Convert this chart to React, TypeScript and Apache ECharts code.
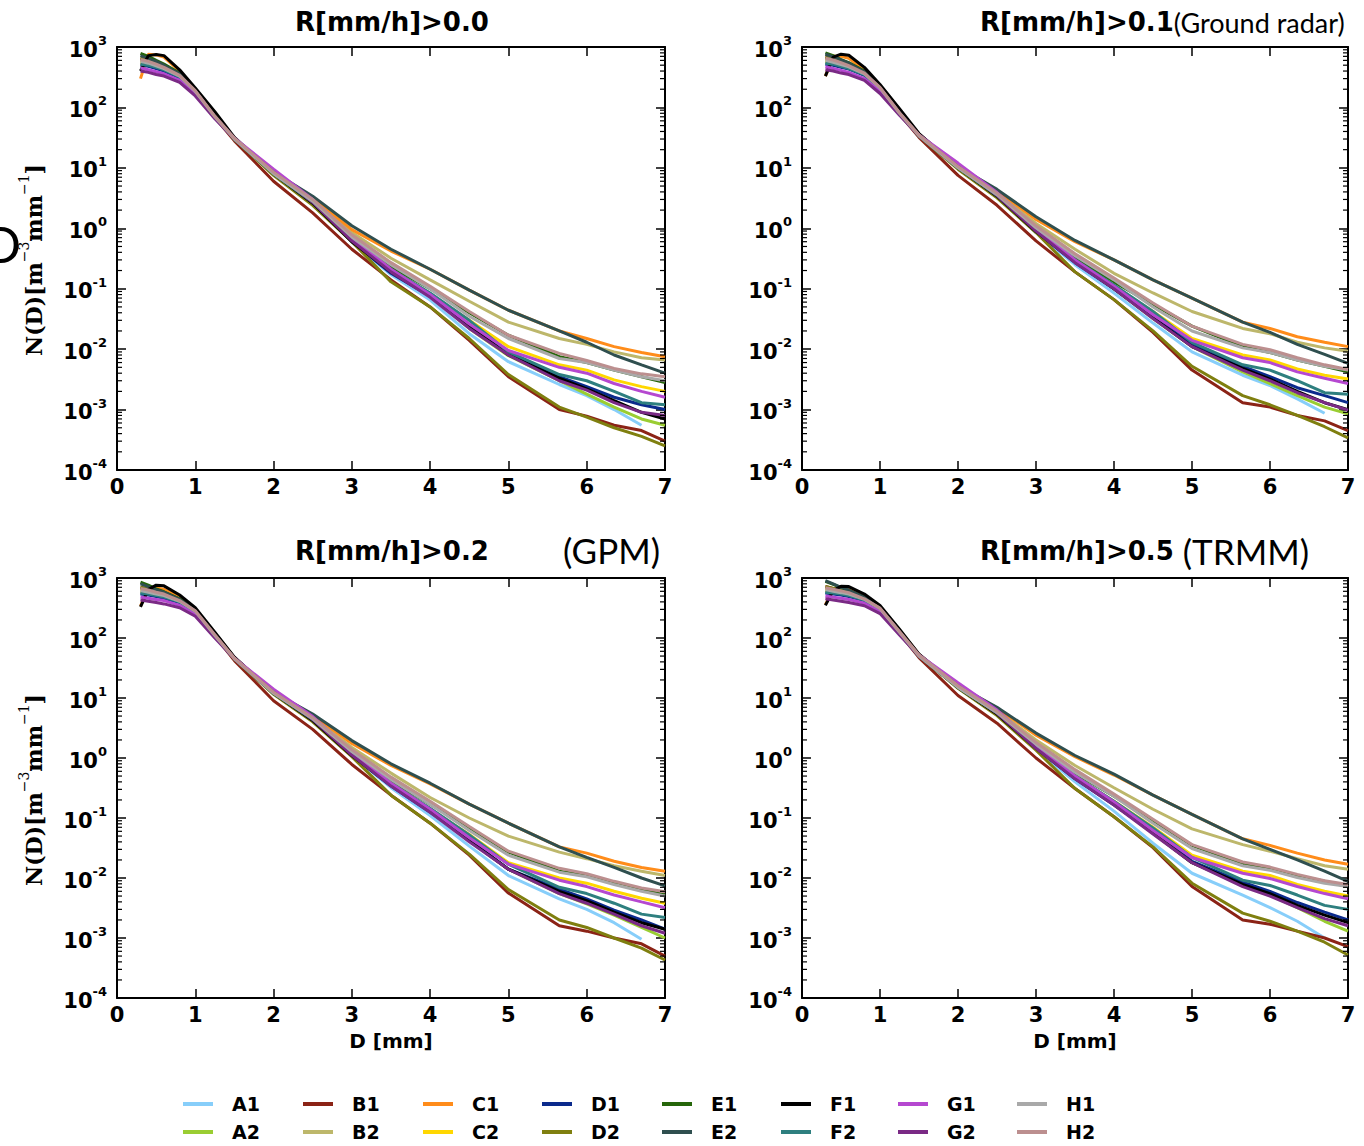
import React, { useEffect, useRef } from 'react';
import * as echarts from 'echarts';

// Drop diameter grid D [mm]
const DIAMETERS = [0.3, 0.4, 0.5, 0.6, 0.8, 1.0, 1.25, 1.5, 2.0, 2.5, 3.0, 3.5, 4.0, 4.5, 5.0, 5.65, 6.0, 6.35, 6.7, 7.0];

const SERIES_NAMES = ['A1', 'A2', 'B1', 'B2', 'C1', 'C2', 'D1', 'D2', 'E1', 'E2', 'F1', 'F2', 'G1', 'G2', 'H1', 'H2'];
const SERIES_COLORS = ['#87cefa', '#9acd32', '#8b2316', '#bdb76b', '#ff8c1a', '#ffd700', '#0b2a8c', '#7f7f0f',
  '#26660a', '#2f4f4f', '#000000', '#2e7f7f', '#b548d0', '#7a2a85', '#a9a9a9', '#bc8f8f'];

const PANEL_TITLES = ['R[mm/h]>0.0', 'R[mm/h]>0.1', 'R[mm/h]>0.2', 'R[mm/h]>0.5'];
const PANEL_NOTES = ['', '(Ground radar)', '(GPM)', '(TRMM)'];
const X_LABEL = 'D [mm]';

// N(D) [m^-3 mm^-1], one row per series (order of SERIES_NAMES), columns follow DIAMETERS
const ND_R00 = [
  [550, 520, 480, 440, 330, 190, 70, 30, 8, 2.6, 0.6, 0.17, 0.065, 0.018, 0.0062, 0.0026, 0.0017, 0.001, 0.00055, null],
  [600, 560, 500, 450, 340, 190, 70, 30, 8, 2.6, 0.62, 0.19, 0.075, 0.022, 0.0078, 0.003, 0.0018, 0.0011, 0.0007, 0.00055],
  [650, 600, 540, 480, 350, 190, 68, 28, 6, 1.8, 0.45, 0.14, 0.05, 0.014, 0.0035, 0.001, 0.00078, 0.00055, 0.00045, 0.0003],
  [600, 560, 500, 450, 340, 185, 70, 30, 8, 3.0, 0.85, 0.32, 0.14, 0.062, 0.028, 0.015, 0.012, 0.009, 0.0072, 0.0066],
  [300, 760, 740, 680, 400, 200, 75, 31, 8.5, 3.2, 0.95, 0.42, 0.21, 0.095, 0.044, 0.02, 0.015, 0.011, 0.0088, 0.0075],
  [550, 520, 470, 430, 330, 185, 70, 30, 8, 2.7, 0.65, 0.2, 0.08, 0.03, 0.011, 0.0055, 0.0045, 0.0031, 0.0024, 0.002],
  [500, 480, 440, 400, 310, 185, 70, 30, 8, 2.6, 0.6, 0.18, 0.075, 0.025, 0.0085, 0.0035, 0.0024, 0.0016, 0.0012, 0.001],
  [650, 600, 540, 480, 350, 190, 70, 30, 7.5, 2.4, 0.6, 0.13, 0.05, 0.015, 0.0038, 0.0011, 0.00075, 0.0005, 0.00036, 0.00025],
  [780, 700, 600, 520, 370, 195, 72, 30, 8, 2.8, 0.7, 0.23, 0.1, 0.04, 0.017, 0.0075, 0.006, 0.0045, 0.0035, 0.0028],
  [720, 650, 580, 500, 360, 195, 72, 31, 8.5, 3.4, 1.1, 0.45, 0.21, 0.095, 0.044, 0.02, 0.013, 0.008, 0.0055, 0.004],
  [400, 720, 750, 720, 420, 210, 85, 32, 8, 2.6, 0.6, 0.19, 0.075, 0.024, 0.008, 0.0033, 0.0022, 0.0014, 0.0009, 0.0007],
  [520, 500, 460, 420, 320, 185, 70, 30, 8, 2.7, 0.65, 0.21, 0.085, 0.03, 0.009, 0.0038, 0.003, 0.002, 0.0013, 0.0012],
  [450, 420, 390, 360, 280, 165, 68, 31, 9.5, 3.0, 0.7, 0.21, 0.08, 0.026, 0.0095, 0.005, 0.004, 0.0027, 0.002, 0.0016],
  [400, 380, 350, 330, 260, 155, 65, 30, 8.5, 2.7, 0.62, 0.19, 0.072, 0.022, 0.008, 0.003, 0.0021, 0.0013, 0.0009, 0.0008],
  [580, 540, 490, 440, 330, 185, 70, 30, 8, 2.8, 0.72, 0.25, 0.1, 0.035, 0.015, 0.007, 0.006, 0.0045, 0.0035, 0.003],
  [620, 580, 520, 460, 340, 190, 72, 31, 8.5, 3.0, 0.78, 0.27, 0.11, 0.042, 0.017, 0.0085, 0.0065, 0.0048, 0.0039, 0.0035],
];

const ND_R01 = [
  [560, 540, 500, 460, 360, 210, 80, 34, 10, 3.4, 0.85, 0.25, 0.085, 0.027, 0.009, 0.0037, 0.0025, 0.0015, 0.00087, null],
  [640, 600, 540, 490, 370, 215, 82, 35, 10, 3.4, 0.9, 0.28, 0.1, 0.032, 0.011, 0.0042, 0.0027, 0.0017, 0.0011, 0.00085],
  [680, 630, 560, 500, 370, 210, 78, 32, 7.5, 2.4, 0.62, 0.19, 0.066, 0.019, 0.0045, 0.0013, 0.0011, 0.0008, 0.00065, 0.00045],
  [640, 600, 540, 490, 370, 210, 80, 35, 10, 3.9, 1.2, 0.45, 0.18, 0.085, 0.042, 0.022, 0.018, 0.013, 0.0105, 0.0092],
  [330, 700, 700, 650, 420, 230, 88, 36, 10.5, 4.2, 1.4, 0.6, 0.3, 0.14, 0.07, 0.028, 0.022, 0.016, 0.013, 0.011],
  [580, 550, 500, 460, 360, 210, 80, 34, 10, 3.5, 0.92, 0.28, 0.11, 0.042, 0.015, 0.008, 0.0066, 0.0047, 0.0037, 0.0032],
  [520, 500, 460, 430, 340, 205, 80, 34, 10, 3.4, 0.88, 0.27, 0.1, 0.035, 0.012, 0.0052, 0.0035, 0.0023, 0.0017, 0.0013],
  [680, 630, 560, 500, 370, 210, 80, 34, 9.5, 3.2, 0.85, 0.19, 0.066, 0.02, 0.0052, 0.0017, 0.0012, 0.0008, 0.00052, 0.00034],
  [800, 720, 620, 550, 400, 220, 84, 35, 10, 3.7, 1.0, 0.33, 0.13, 0.055, 0.024, 0.011, 0.0088, 0.0066, 0.0052, 0.0042],
  [760, 690, 610, 540, 390, 220, 84, 36, 10.5, 4.4, 1.55, 0.63, 0.3, 0.14, 0.07, 0.028, 0.019, 0.012, 0.0082, 0.0058],
  [330, 680, 760, 730, 460, 240, 95, 37, 10, 3.4, 0.88, 0.28, 0.1, 0.033, 0.011, 0.0048, 0.0032, 0.002, 0.0013, 0.001],
  [540, 520, 480, 440, 350, 205, 80, 34, 10, 3.5, 0.95, 0.3, 0.115, 0.042, 0.013, 0.0055, 0.0045, 0.003, 0.0019, 0.0018],
  [470, 440, 410, 380, 300, 185, 78, 35, 12, 3.9, 1.0, 0.3, 0.11, 0.037, 0.014, 0.0072, 0.006, 0.0042, 0.0033, 0.0027],
  [420, 400, 370, 350, 280, 170, 74, 34, 10.5, 3.5, 0.9, 0.27, 0.1, 0.032, 0.011, 0.0045, 0.003, 0.0019, 0.0013, 0.00098],
  [600, 560, 510, 470, 360, 210, 80, 34, 10, 3.6, 1.02, 0.35, 0.14, 0.05, 0.02, 0.0105, 0.0088, 0.0066, 0.0052, 0.0045],
  [650, 610, 550, 490, 370, 215, 82, 35, 10.5, 3.8, 1.1, 0.38, 0.15, 0.058, 0.024, 0.012, 0.0098, 0.0072, 0.0055, 0.0046],
];

const ND_R02 = [
  [560, 550, 520, 490, 400, 280, 110, 45, 12, 4.2, 1.1, 0.32, 0.11, 0.034, 0.011, 0.0045, 0.003, 0.0018, 0.00095, null],
  [660, 620, 570, 530, 420, 290, 115, 46, 12, 4.3, 1.15, 0.36, 0.13, 0.042, 0.014, 0.0055, 0.0037, 0.0024, 0.0015, 0.001],
  [700, 650, 590, 540, 420, 280, 108, 42, 9, 3.0, 0.78, 0.24, 0.082, 0.024, 0.0056, 0.0016, 0.0013, 0.001, 0.0008, 0.0005],
  [660, 620, 570, 530, 420, 285, 112, 46, 12, 4.8, 1.5, 0.56, 0.22, 0.1, 0.05, 0.027, 0.021, 0.016, 0.013, 0.011],
  [340, 660, 680, 650, 480, 300, 120, 47, 12.5, 5.2, 1.75, 0.75, 0.37, 0.17, 0.082, 0.033, 0.026, 0.019, 0.015, 0.013],
  [600, 570, 530, 500, 410, 280, 110, 45, 12, 4.4, 1.15, 0.36, 0.14, 0.053, 0.018, 0.01, 0.0082, 0.006, 0.0046, 0.0038],
  [540, 520, 490, 460, 390, 275, 110, 45, 12, 4.2, 1.1, 0.34, 0.125, 0.044, 0.014, 0.0065, 0.0045, 0.0029, 0.002, 0.0014],
  [700, 650, 590, 540, 420, 285, 112, 45, 11.5, 4.0, 1.05, 0.24, 0.082, 0.025, 0.0064, 0.002, 0.0015, 0.001, 0.00068, 0.00043],
  [850, 760, 660, 590, 450, 295, 115, 46, 12, 4.6, 1.25, 0.42, 0.17, 0.068, 0.027, 0.013, 0.011, 0.0082, 0.0065, 0.0052],
  [800, 720, 640, 580, 440, 295, 116, 47, 12.5, 5.4, 1.95, 0.8, 0.38, 0.17, 0.082, 0.033, 0.022, 0.015, 0.01, 0.0074],
  [330, 640, 760, 740, 520, 320, 125, 48, 12, 4.2, 1.1, 0.35, 0.13, 0.042, 0.014, 0.006, 0.0042, 0.0027, 0.0018, 0.0014],
  [560, 540, 510, 480, 400, 275, 110, 45, 12, 4.4, 1.2, 0.38, 0.145, 0.052, 0.017, 0.007, 0.0055, 0.0038, 0.0025, 0.0022],
  [480, 460, 440, 420, 350, 245, 105, 46, 14, 4.9, 1.25, 0.38, 0.14, 0.047, 0.017, 0.0092, 0.0072, 0.0052, 0.004, 0.0032],
  [430, 410, 390, 370, 320, 230, 100, 45, 12.5, 4.4, 1.12, 0.34, 0.125, 0.04, 0.014, 0.0055, 0.0038, 0.0025, 0.0016, 0.0012],
  [620, 580, 540, 510, 410, 280, 110, 45, 12, 4.5, 1.28, 0.44, 0.17, 0.062, 0.024, 0.0125, 0.0105, 0.0078, 0.006, 0.005],
  [670, 630, 580, 540, 420, 285, 114, 46, 12.5, 4.7, 1.38, 0.48, 0.19, 0.072, 0.028, 0.0145, 0.0118, 0.0088, 0.0068, 0.0059],
];

const ND_R05 = [
  [570, 560, 540, 510, 430, 310, 125, 50, 15, 5.4, 1.4, 0.4, 0.13, 0.038, 0.012, 0.0052, 0.0032, 0.0019, 0.001, null],
  [680, 640, 600, 560, 450, 320, 130, 52, 15, 5.5, 1.5, 0.47, 0.17, 0.056, 0.018, 0.0075, 0.0052, 0.0032, 0.0019, 0.0013],
  [720, 670, 620, 570, 450, 310, 120, 47, 11, 3.8, 1.0, 0.31, 0.105, 0.032, 0.0072, 0.002, 0.0017, 0.0013, 0.001, 0.00072],
  [680, 640, 600, 560, 450, 315, 128, 52, 15, 6.2, 2.0, 0.75, 0.32, 0.14, 0.066, 0.036, 0.028, 0.021, 0.016, 0.014],
  [360, 640, 680, 660, 510, 330, 135, 53, 16, 6.8, 2.4, 1.05, 0.52, 0.24, 0.115, 0.045, 0.035, 0.026, 0.02, 0.017],
  [620, 590, 560, 530, 440, 310, 125, 50, 15, 5.6, 1.5, 0.48, 0.19, 0.07, 0.024, 0.013, 0.011, 0.0078, 0.006, 0.005],
  [560, 540, 520, 490, 420, 305, 125, 50, 15, 5.4, 1.45, 0.45, 0.165, 0.058, 0.019, 0.0085, 0.006, 0.0039, 0.0027, 0.002],
  [720, 670, 620, 570, 450, 315, 128, 51, 14.5, 5.1, 1.35, 0.31, 0.105, 0.033, 0.0082, 0.0026, 0.0019, 0.0013, 0.00085, 0.00052],
  [880, 780, 690, 620, 480, 325, 130, 52, 15, 5.9, 1.65, 0.56, 0.23, 0.09, 0.035, 0.017, 0.014, 0.011, 0.0088, 0.0072],
  [900, 800, 700, 630, 480, 330, 132, 53, 16, 7.0, 2.6, 1.1, 0.54, 0.24, 0.115, 0.045, 0.03, 0.02, 0.013, 0.0088],
  [350, 620, 730, 720, 540, 350, 140, 54, 15, 5.4, 1.45, 0.46, 0.17, 0.056, 0.018, 0.0078, 0.0055, 0.0035, 0.0024, 0.0018],
  [580, 560, 540, 510, 430, 305, 125, 50, 15, 5.6, 1.55, 0.5, 0.19, 0.068, 0.022, 0.0092, 0.0075, 0.0052, 0.0035, 0.003],
  [500, 480, 460, 440, 380, 275, 118, 52, 18, 6.3, 1.65, 0.5, 0.185, 0.062, 0.022, 0.012, 0.0098, 0.0072, 0.0055, 0.0045],
  [450, 430, 410, 390, 345, 255, 112, 50, 16, 5.6, 1.45, 0.45, 0.165, 0.054, 0.018, 0.0072, 0.005, 0.0032, 0.0021, 0.0016],
  [640, 600, 570, 540, 440, 310, 125, 50, 15, 5.7, 1.7, 0.58, 0.23, 0.082, 0.031, 0.016, 0.0135, 0.0102, 0.0082, 0.0072],
  [690, 650, 610, 570, 450, 315, 128, 52, 16, 6.0, 1.82, 0.64, 0.25, 0.095, 0.036, 0.0185, 0.0152, 0.0115, 0.009, 0.0078],
];

const PANEL_DATA = [ND_R00, ND_R01, ND_R02, ND_R05];

const X_MIN = 0;
const X_MAX = 7;
const Y_MIN = 1e-4;
const Y_MAX = 1e3;

// layout
const GRID_BOXES = [
  { left: 117, top: 47, width: 548, height: 423 },
  { left: 802, top: 47, width: 546, height: 423 },
  { left: 117, top: 578, width: 548, height: 420 },
  { left: 802, top: 578, width: 546, height: 420 },
];
const LEGEND_LEFTS = [183, 303, 423, 542, 662, 781, 898, 1017];
const LEGEND_TOPS = [1094, 1122];

const MINOR_TICKS: number[] = [];
for (let e = -4; e < 3; e++) {
  for (let k = 2; k <= 9; k++) MINOR_TICKS.push(k * Math.pow(10, e));
}

const BOLD = 'DejaVu Sans';

function yTickFormatter(v: number) {
  const e = Math.round(Math.log10(v));
  return `{b|10}{s|${e}}`;
}

const yTickRich = {
  b: { fontFamily: BOLD, fontWeight: 'bold', fontSize: 21, color: '#000', verticalAlign: 'bottom', lineHeight: 26 },
  s: { fontFamily: BOLD, fontWeight: 'bold', fontSize: 13, color: '#000', verticalAlign: 'top', lineHeight: 13 },
};

function buildOption() {
  const grid = GRID_BOXES.map((g) => ({ ...g, containLabel: false }));
  const xAxis: any[] = [];
  const yAxis: any[] = [];
  const series: any[] = [];
  const tickStyle = { color: '#000', width: 1.5 };
  const lineStyle = { color: '#000', width: 2 };

  GRID_BOXES.forEach((_, p) => {
    xAxis.push({
      gridIndex: p, type: 'value', min: X_MIN, max: X_MAX, interval: 1, position: 'bottom',
      axisLine: { show: true, onZero: false, lineStyle },
      axisTick: { show: true, inside: true, length: 9, lineStyle: tickStyle },
      axisLabel: { color: '#000', fontFamily: BOLD, fontWeight: 'bold', fontSize: 21, margin: 6 },
      splitLine: { show: false },
      name: p >= 2 ? X_LABEL : '', nameLocation: 'middle', nameGap: 33,
      nameTextStyle: { color: '#000', fontFamily: BOLD, fontWeight: 'bold', fontSize: 20 },
    });
    yAxis.push({
      gridIndex: p, type: 'log', logBase: 10, min: Y_MIN, max: Y_MAX, position: 'left',
      axisLine: { show: true, onZero: false, lineStyle },
      axisTick: { show: true, inside: true, length: 9, lineStyle: tickStyle },
      axisLabel: { formatter: yTickFormatter, rich: yTickRich, margin: 10 },
      splitLine: { show: false },
    });
  });
  GRID_BOXES.forEach((_, p) => {
    xAxis.push({
      gridIndex: p, type: 'value', min: X_MIN, max: X_MAX, interval: 1, position: 'top',
      axisLine: { show: true, onZero: false, lineStyle },
      axisTick: { show: true, inside: true, length: 9, lineStyle: tickStyle },
      axisLabel: { show: false }, splitLine: { show: false },
    });
    yAxis.push({
      gridIndex: p, type: 'log', logBase: 10, min: Y_MIN, max: Y_MAX, position: 'right',
      axisLine: { show: true, onZero: false, lineStyle },
      axisTick: { show: true, inside: true, length: 9, lineStyle: tickStyle },
      axisLabel: { show: false }, splitLine: { show: false },
    });
  });

  PANEL_DATA.forEach((rows, p) => {
    rows.forEach((vals, s) => {
      const data = DIAMETERS.map((d, j) => [d, vals[j]]).filter((pt) => pt[1] !== null);
      series.push({
        type: 'line', name: SERIES_NAMES[s], xAxisIndex: p, yAxisIndex: p, data,
        symbol: 'none', showSymbol: false, silent: true,
        lineStyle: { color: SERIES_COLORS[s], width: 3 },
        itemStyle: { color: SERIES_COLORS[s] },
        emphasis: { disabled: true }, z: 2,
      });
    });
    series.push({
      type: 'custom', xAxisIndex: p, yAxisIndex: p, silent: true, z: 5,
      data: MINOR_TICKS.map((v) => [X_MIN, v]),
      renderItem: (params: any, api: any) => {
        const v = api.value(1);
        const l = api.coord([X_MIN, v]);
        const r = api.coord([X_MAX, v]);
        return {
          type: 'group',
          children: [
            { type: 'line', shape: { x1: l[0], y1: l[1], x2: l[0] + 5, y2: l[1] }, style: { stroke: '#000', lineWidth: 1.2 } },
            { type: 'line', shape: { x1: r[0] - 5, y1: r[1], x2: r[0], y2: r[1] }, style: { stroke: '#000', lineWidth: 1.2 } },
          ],
        };
      },
    });
  });

  const legend: any[] = [];
  SERIES_NAMES.forEach((name, i) => {
    legend.push({
      left: LEGEND_LEFTS[Math.floor(i / 2)], top: LEGEND_TOPS[i % 2], padding: 0,
      orient: 'horizontal', data: [name],
      icon: 'rect', itemWidth: 30, itemHeight: 4,
      selectedMode: false,
      textStyle: { color: '#000', fontFamily: BOLD, fontWeight: 'bold', fontSize: 19, lineHeight: 20, padding: [0, 0, 0, 14] },
    });
  });

  const titleStyle = { fontFamily: BOLD, fontWeight: 'bold', fontSize: 26, fill: '#000' };
  const yLabelRich = {
    a: { fontFamily: 'DejaVu Serif', fontWeight: 'bold', fontSize: 22, fill: '#000', verticalAlign: 'bottom', lineHeight: 28 },
    s: { fontFamily: 'DejaVu Serif', fontWeight: 'normal', fontSize: 14, fill: '#000', verticalAlign: 'top', lineHeight: 14 },
  };
  const yLabelText = '{a|N(D)[m}{s|\u22123}{a|mm}{s|\u22121}{a|]}';

  const graphic: any[] = [
    { type: 'text', x: 392, y: 22, style: { text: PANEL_TITLES[0], ...titleStyle, align: 'center', verticalAlign: 'middle' } },
    {
      type: 'text', x: 980, y: 22,
      style: {
        text: `{b|${PANEL_TITLES[1]}}{n|${PANEL_NOTES[1]}}`, align: 'left', verticalAlign: 'middle',
        rich: { b: { ...titleStyle }, n: { fontFamily: 'Lato', fontSize: 27, fill: '#000' } },
      },
    },
    { type: 'text', x: 392, y: 551, style: { text: PANEL_TITLES[2], ...titleStyle, align: 'center', verticalAlign: 'middle' } },
    { type: 'text', x: 563, y: 550, style: { text: PANEL_NOTES[2], fontFamily: 'Lato', fontSize: 35, fill: '#000', align: 'left', verticalAlign: 'middle' } },
    {
      type: 'text', x: 980, y: 551,
      style: {
        text: `{b|${PANEL_TITLES[3]}}{n| ${PANEL_NOTES[3]}}`, align: 'left', verticalAlign: 'middle',
        rich: { b: { ...titleStyle }, n: { fontFamily: 'Lato', fontSize: 35, fill: '#000' } },
      },
    },
    { type: 'text', x: 31, y: 260, rotation: Math.PI / 2, style: { text: yLabelText, rich: yLabelRich, align: 'center', verticalAlign: 'middle' } },
    { type: 'text', x: 31, y: 790, rotation: Math.PI / 2, style: { text: yLabelText, rich: yLabelRich, align: 'center', verticalAlign: 'middle' } },
    { type: 'text', x: -17, y: 244, style: { text: 'D', fontFamily: 'Lato', fontSize: 50, fill: '#000', align: 'left', verticalAlign: 'middle' } },
  ];

  return {
    animation: false,
    backgroundColor: '#ffffff',
    grid, xAxis, yAxis, series, legend, graphic,
  };
}

export default function App() {
  const ref = useRef<HTMLDivElement>(null);
  useEffect(() => {
    if (!ref.current) return;
    const chart = echarts.init(ref.current, undefined, { renderer: 'svg' });
    chart.setOption(buildOption() as any);
    return () => chart.dispose();
  }, []);
  return <div ref={ref} style={{ position: 'absolute', left: 0, top: 0, width: 1364, height: 1146 }} />;
}
